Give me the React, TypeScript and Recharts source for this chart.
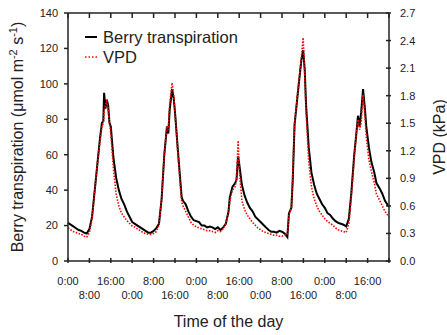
import React from "react";
import { Line, LineChart, XAxis, YAxis } from "recharts";

// hours since start of the record (5 days)
const hours = [
  0, 1, 2, 3, 4, 5, 6, 7, 8, 9, 10, 11, 12, 12.7, 13.2, 13.5, 14, 14.5, 15, 15.5, 16, 17, 18, 19, 20, 21, 22, 23,
  24, 25, 26, 27, 28, 29, 30, 31, 32, 33, 34, 35, 36, 37, 37.5, 38, 38.9, 39.5, 40, 41, 42, 42.5, 43, 44, 45, 46, 47,
  48, 49, 50, 51, 52, 53, 54, 55, 56, 57, 58, 59, 60, 60.5, 61.5, 62.5, 63, 63.6, 64, 65, 66, 67, 68, 69, 70, 71,
  72, 73, 74, 75, 76, 77, 78, 79, 80, 81, 82, 82.6, 83.5, 84, 84.7, 86, 87.2, 87.9, 88.5, 89, 90, 91, 92, 93, 94, 95,
  96, 97, 98, 99, 100, 101, 102, 103, 104, 105, 105.9, 107, 107.8, 108.4, 109, 109.6, 110.3, 111, 111.5, 112.5,
  113.4, 114.5, 115.3, 116.5, 117.5, 118.5, 120,
];

// berry transpiration, µmol m-2 s-1
const transpiration = [
  21.5, 20.5, 19.5, 18.5, 17.5, 17, 16, 15.5, 18, 25, 40, 55, 70, 78, 79, 95, 86, 91, 88, 78, 76, 58, 47, 40, 35, 32, 28, 25,
  22, 21, 20, 19, 18, 17, 16, 16, 17, 18.5, 21, 35, 60, 76, 72, 85, 97, 92, 84, 64, 45, 36, 34, 32, 28, 25, 23,
  22.5, 22, 20, 20, 19, 19.5, 19, 18, 19, 17.5, 19, 21, 28, 36, 42, 44, 46, 59, 55, 43, 37, 33, 30, 28, 25, 23.5,
  22, 20.5, 19, 17.5, 16.5, 16.5, 16, 17, 16.5, 15.5, 13.5, 27, 30, 45, 77, 96, 113, 119, 108, 88, 64, 50, 43, 38, 35, 32,
  30, 27, 26, 24, 22.5, 21.5, 21, 20.5, 19.5, 24, 38, 60, 72, 82, 76, 84, 97, 86, 76, 64,
  56, 50, 44, 41, 38, 34, 30.5,
];

// vapour pressure deficit, kPa
const vpd = [
  0.36, 0.34, 0.32, 0.31, 0.3, 0.29, 0.27, 0.26, 0.31, 0.46, 0.77, 1.06, 1.31, 1.47, 1.5, 1.64, 1.7, 1.74, 1.66, 1.5, 1.39, 1.0, 0.73, 0.6, 0.52, 0.48, 0.44, 0.41,
  0.38, 0.37, 0.35, 0.33, 0.31, 0.3, 0.29, 0.29, 0.3, 0.32, 0.39, 0.68, 1.16, 1.47, 1.43, 1.7, 1.94, 1.81, 1.62, 1.2, 0.81, 0.64, 0.6, 0.54, 0.48, 0.42, 0.39,
  0.37, 0.36, 0.35, 0.34, 0.33, 0.33, 0.32, 0.31, 0.33, 0.32, 0.35, 0.41, 0.52, 0.66, 0.77, 0.81, 0.89, 1.31, 1.0, 0.66, 0.56, 0.5, 0.46, 0.42, 0.39, 0.36,
  0.34, 0.32, 0.31, 0.3, 0.29, 0.28, 0.28, 0.27, 0.27, 0.28, 0.29, 0.5, 0.58, 0.93, 1.5, 1.87, 2.2, 2.43, 2.04, 1.62, 1.08, 0.81, 0.68, 0.6, 0.54, 0.5,
  0.46, 0.43, 0.41, 0.39, 0.36, 0.34, 0.33, 0.32, 0.31, 0.41, 0.69, 1.12, 1.39, 1.54, 1.43, 1.5, 1.81, 1.58, 1.35, 1.1,
  0.98, 0.85, 0.73, 0.66, 0.6, 0.54, 0.48,
];

const timeTicks = [0, 8, 16, 24, 32, 40, 48, 56, 64, 72, 80, 88, 96, 104, 112, 120];
const leftTicks = [0, 20, 40, 60, 80, 100, 120, 140];
const rightTicks = [0, 0.3, 0.6, 0.9, 1.2, 1.5, 1.8, 2.1, 2.4, 2.7];

const chartData = hours.map((h, i) => ({
  h,
  transpiration: transpiration[i],
  vpd: vpd[i],
}));

const FONT = "'Liberation Sans', Arial, sans-serif";

// bottom axis: tick marks point into the plot, labels staggered on two rows
function TimeTick(props: any) {
  const { x, y, payload, index } = props;
  const last = payload.value === 120;
  const label = `${payload.value % 24}:00`;
  return (
    <g>
      <line x1={x} x2={x} y1={y} y2={y - 5} stroke="#222" strokeWidth={1.5} />
      {!last && (
        <text
          x={x}
          y={index % 2 === 0 ? y + 22 : y + 36}
          textAnchor="middle"
          fontSize={11}
          fill="#222"
          fontFamily={FONT}
        >
          {label}
        </text>
      )}
    </g>
  );
}

// top frame: only inward tick marks
function TopTick(props: any) {
  const { x, y } = props;
  return <line x1={x} x2={x} y1={y} y2={y + 5} stroke="#222" strokeWidth={1.5} />;
}

function VpdTick(props: any) {
  const { x, y, payload } = props;
  return (
    <g>
      <line x1={x} x2={x - 5} y1={y} y2={y} stroke="#222" strokeWidth={1.5} />
      <text x={x + 9} y={y + 4} fontSize={11} fill="#222" fontFamily={FONT}>
        {payload.value.toFixed(1)}
      </text>
    </g>
  );
}

function LeftTitle(props: any) {
  const { viewBox } = props;
  const cx = viewBox.x + 23;
  const cy = viewBox.y + viewBox.height / 2;
  return (
    <text
      x={cx}
      y={cy}
      transform={`rotate(-90 ${cx} ${cy})`}
      textAnchor="middle"
      fontSize={16}
      fill="#222"
      fontFamily={FONT}
    >
      Berry transpiration (μmol m
      <tspan dy={-6} fontSize={11}>-2</tspan>
      <tspan dy={6}> s</tspan>
      <tspan dy={-6} fontSize={11}>-1</tspan>
      <tspan dy={6}>)</tspan>
    </text>
  );
}

function RightTitle(props: any) {
  const { viewBox } = props;
  const cx = viewBox.x + 56;
  const cy = viewBox.y + viewBox.height / 2;
  return (
    <text
      x={cx}
      y={cy}
      transform={`rotate(-90 ${cx} ${cy})`}
      textAnchor="middle"
      fontSize={16}
      fill="#222"
      fontFamily={FONT}
    >
      VPD (kPa)
    </text>
  );
}

function BottomTitle(props: any) {
  const { viewBox } = props;
  return (
    <text
      x={viewBox.x + viewBox.width / 2}
      y={viewBox.y + 66}
      textAnchor="middle"
      fontSize={16}
      fill="#222"
      fontFamily={FONT}
    >
      Time of the day
    </text>
  );
}

function LegendBox() {
  const row = { display: "flex", alignItems: "center", height: 20 } as const;
  return (
    <div
      style={{
        position: "absolute",
        left: 84,
        top: 27,
        fontFamily: FONT,
        fontSize: 16.5,
        color: "#222",
        lineHeight: "20px",
      }}
    >
      <div style={row}>
        <svg width={19} height={10}>
          <line x1={1} x2={13} y1={5} y2={5} stroke="#000" strokeWidth={2} />
        </svg>
        <span>Berry transpiration</span>
      </div>
      <div style={row}>
        <svg width={19} height={10}>
          <line x1={1} x2={13} y1={5} y2={5} stroke="#ff0000" strokeWidth={1.6} strokeDasharray="1.5 2" />
        </svg>
        <span>VPD</span>
      </div>
    </div>
  );
}

export default function App() {
  return (
    <div style={{ position: "absolute", left: 0, top: 0, width: 447, height: 335, fontFamily: FONT }}>
      <LineChart width={447} height={335} data={chartData} margin={{ top: 12, right: 0, bottom: 0, left: 0 }}>
        <XAxis
          dataKey="h"
          type="number"
          domain={[0, 120]}
          ticks={timeTicks}
          interval={0}
          height={74}
          tickSize={0}
          tickLine={false}
          tick={<TimeTick />}
          stroke="#222"
          strokeWidth={1.5}
          label={<BottomTitle />}
        />
        <XAxis
          xAxisId="top"
          dataKey="h"
          type="number"
          orientation="top"
          domain={[0, 120]}
          ticks={timeTicks}
          interval={0}
          height={1}
          tickSize={0}
          tickMargin={0}
          tickLine={false}
          tick={<TopTick />}
          stroke="#222"
          strokeWidth={1.5}
        />
        <YAxis
          yAxisId="t"
          domain={[0, 140]}
          ticks={leftTicks}
          interval={0}
          width={68}
          tickSize={4}
          tickMargin={6}
          tick={{ fontSize: 11, fill: "#222", fontFamily: FONT }}
          stroke="#222"
          strokeWidth={1.5}
          label={<LeftTitle />}
        />
        <YAxis
          yAxisId="v"
          orientation="right"
          domain={[0, 2.7]}
          ticks={rightTicks}
          interval={0}
          width={58}
          tickSize={0}
          tickLine={false}
          tick={<VpdTick />}
          stroke="#222"
          strokeWidth={1.5}
          label={<RightTitle />}
        />
        <Line
          xAxisId="top"
          yAxisId="t"
          dataKey="transpiration"
          type="linear"
          stroke="#000"
          strokeWidth={2}
          dot={false}
          isAnimationActive={false}
        />
        <Line
          yAxisId="v"
          dataKey="vpd"
          type="linear"
          stroke="#ff0000"
          strokeWidth={1.6}
          strokeDasharray="1.5 1.5"
          dot={false}
          isAnimationActive={false}
        />
      </LineChart>
      <LegendBox />
    </div>
  );
}
